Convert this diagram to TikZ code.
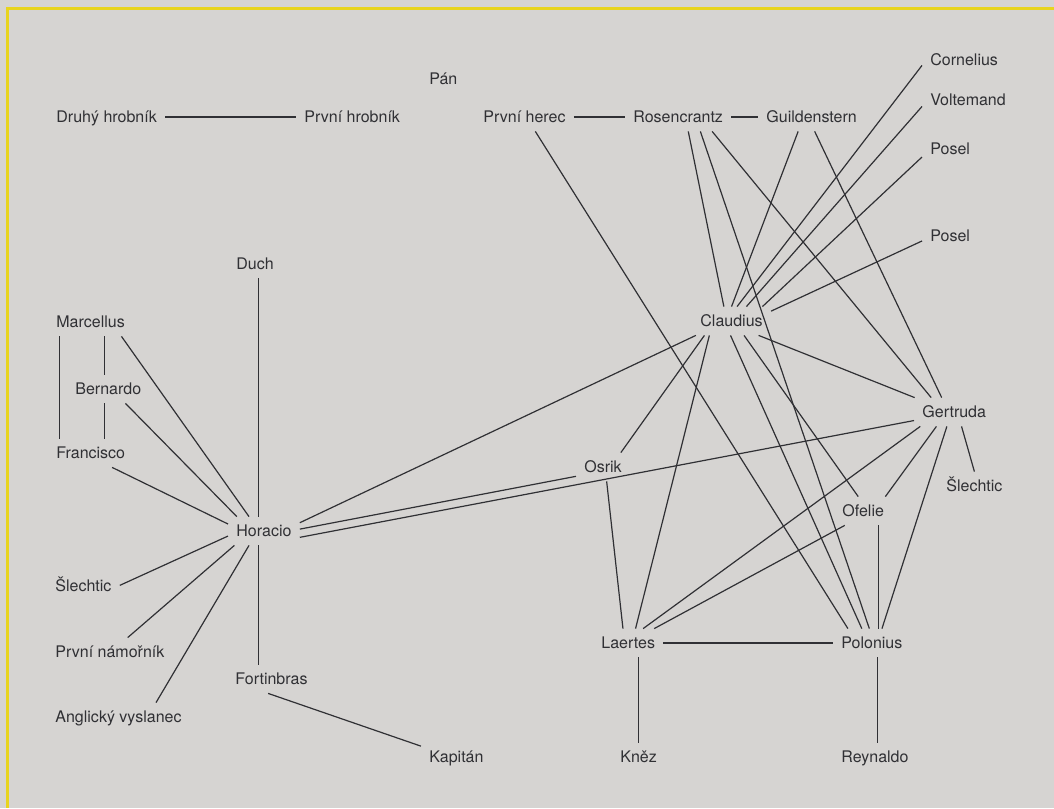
\documentclass[tikz,border=0pt]{standalone}
\usepackage{fontspec}
\setmainfont{TeX Gyre Heros}
\usepackage{xcolor}
\usepackage{tikz}
\usetikzlibrary{positioning}
\definecolor{paper}{RGB}{214,212,210}
\definecolor{ink}{RGB}{48,48,52}
\definecolor{frame}{RGB}{232,212,30}
\tikzset{
  person/.style={anchor=west, inner xsep=4pt, inner ysep=3.2pt, text height=6.3pt,
                 text depth=1.3pt, text=ink, font=\fontsize{8}{10}\selectfont},
  tie/.style={draw=ink, line width=0.6pt},
  rim/.style={draw=frame, line width=1.5pt}
}

\begin{document}
\begin{tikzpicture}[x=0.5pt, y=-0.5pt]
    \fill[paper] (0,0) rectangle (1054,808);
    \useasboundingbox (0,0) rectangle (1054,808);
    \draw[rim] (7,808) -- (7,9) -- (1054,9);
    \node[person] (pan) at (421,79) {Pán};
    \node[person] (druhy) at (48,117) {Druhý hrobník};
    \node[person] (hrob) at (296,117) {První hrobník};
    \node[person] (herec) at (475,117) {První herec};
    \node[person] (ros) at (625,117) {Rosencrantz};
    \node[person] (gui) at (758,117) {Guildenstern};
    \node[person] (cor) at (922,61) {Cornelius};
    \node[person] (vol) at (922,100) {Voltemand};
    \node[person] (posa) at (922,150) {Posel};
    \node[person] (posb) at (922,236) {Posel};
    \node[person] (duch) at (228,264) {Duch};
    \node[person] (mar) at (48,322) {Marcellus};
    \node[person] (ber) at (67,389) {Bernardo};
    \node[person] (fra) at (48,453) {Francisco};
    \node[person] (hor) at (228,531) {Horacio};
    \node[person] (slea) at (47,586) {Šlechtic};
    \node[person] (nam) at (47,652) {První námořník};
    \node[person] (ang) at (47,717) {Anglický vyslanec};
    \node[person] (fort) at (227,679) {Fortinbras};
    \node[person] (kap) at (421,757) {Kapitán};
    \node[person] (cla) at (692,321) {Claudius};
    \node[person] (osr) at (576,467) {Osrik};
    \node[person] (ger) at (914,412) {Gertruda};
    \node[person] (sleb) at (938,486) {Šlechtic};
    \node[person] (ofe) at (834,511) {Ofelie};
    \node[person] (lae) at (593,643) {Laertes};
    \node[person] (pol) at (833,643) {Polonius};
    \node[person] (knez) at (612,757) {Kněz};
    \node[person] (rey) at (833,757) {Reynaldo};
    \draw[tie] (druhy.east) -- (hrob.west);
    \draw[tie] (herec.east) -- (ros.west);
    \draw[tie] (ros.east) -- (gui.west);
    \draw[tie] (lae.east) -- (pol.west);
    \draw[tie] (mar.205) -- (mar.205 |- fra.north);
    \draw[tie] (mar.-46) -- (mar.-46 |- ber.north);
    \draw[tie] (ber.254) -- (ber.254 |- fra.north);
    \draw[tie] (mar.-25) -- (hor.136);
    \draw[tie] (ber.-40) -- (hor.152);
    \draw[tie] (fra.-34) -- (hor.169);
    \draw[tie] (hor.111) -- (hor.111 |- duch.south);
    \draw[tie] (hor.188) -- (slea.1);
    \draw[tie] (hor.206) -- (nam.39);
    \draw[tie] (hor.224) -- (ang.21);
    \draw[tie] (hor.249) -- (hor.249 |- fort.north);
    \draw[tie] (fort.-103) -- (kap.163);
    \draw[tie] (hor.13) -- (cla.202);
    \draw[tie] (hor.3) -- (osr.199);
    \draw[tie] (hor.-10) -- (ger.192);
    \draw[tie] (ros.-55) -- (cla.118);
    \draw[tie] (gui.227) -- (cla.north);
    \draw[tie] (cor.186) -- (cla.69);
    \draw[tie] (vol.188) -- (cla.44);
    \draw[tie] (posa.194) -- (cla.25);
    \draw[tie] (posb.190) -- (cla.14);
    \draw[tie] (cla.208) -- (osr.39);
    \draw[tie] (cla.213) -- (lae.63);
    \draw[tie] (cla.-94) -- (pol.125);
    \draw[tie] (cla.-49) -- (ofe.109);
    \draw[tie] (cla.-28) -- (ger.160);
    \draw[tie] (herec.-53) -- (pol.149);
    \draw[tie] (ros.-33) -- (pol.100);
    \draw[tie] (ros.-23) -- (ger.148);
    \draw[tie] (gui.-78) -- (ger.131);
    \draw[tie] (ger.203) -- (lae.44);
    \draw[tie] (ger.219) -- (ofe.33);
    \draw[tie] (ger.243) -- (pol.55);
    \draw[tie] (ger.-63) -- (sleb.north);
    \draw[tie] (ofe.218) -- (lae.29);
    \draw[tie] (osr.-76) -- (lae.110);
    \draw[tie] (ofe.-44) -- (ofe.-44 |- pol.north);
    \draw[tie] (pol.-69) -- (pol.-69 |- rey.north);
    \draw[tie] (lae.-55) -- (lae.-55 |- knez.north);
\end{tikzpicture}
\end{document}
